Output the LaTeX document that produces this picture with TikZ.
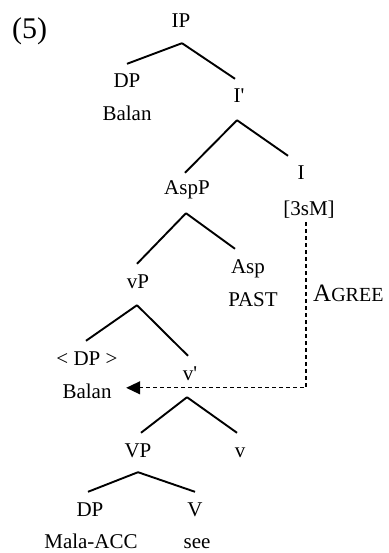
\documentclass[tikz,border=0pt]{standalone}
\usepackage{fontspec}
\setmainfont{Liberation Serif}
\usetikzlibrary{arrows.meta}
\begin{document}
\begin{tikzpicture}[x=1pt,y=-1pt,
  lbl/.style={font=\fontsize{21}{25}\selectfont, anchor=base, inner xsep=0pt, inner ysep=11pt, text height=13pt, text depth=4pt},
  word/.style={font=\fontsize{21}{25}\selectfont, anchor=base, inner sep=0pt},
  branch/.style={line width=1.9pt},
  agree/.style={line width=1.3pt, dash pattern=on 4pt off 3pt, -{Triangle[length=14pt,width=13pt]}}]
\useasboundingbox (0,0) rectangle (388,553);
\node[word, anchor=base west, font=\fontsize{30}{36}\selectfont] (ex) at (12,39) {(5)};
\node[lbl] (IP) at (181,28) {IP};
\node[lbl] (DP1) at (127,88) {DP};
\node[word] (Balan1) at (127,121) {Balan};
\node[lbl] (Ibar) at (239,103) {I\textquotesingle};
\node[lbl] (AspP) at (187,195) {AspP};
\node[lbl] (I) at (301,180) {I};
\node[word] (sm) at (309,215) {[3sM]};
\node[lbl] (vP) at (138,288) {vP};
\node[lbl] (Asp) at (248,273) {Asp};
\node[word] (past) at (253,306) {PAST};
\node[lbl] (DPt) at (87,365) {< DP >};
\node[lbl] (vbar) at (190,380) {v\textquotesingle};
\node[word] (Balan2) at (87,398) {Balan};
\node[lbl] (VP) at (138,457) {VP};
\node[lbl] (v) at (240,457) {v};
\node[lbl] (DP2) at (90,516) {DP};
\node[lbl] (V) at (195,516) {V};
\node[word] (mala) at (91,548) {Mala-ACC};
\node[word] (see) at (197,548) {see};
\node[word, anchor=base west] (agreelbl) at (313,301) {{\fontsize{25}{29}\selectfont A}{\fontsize{20}{24}\selectfont GREE}};
% branches
\draw[branch] ([xshift=1pt]IP.south) -- (DP1.north);
\draw[branch] ([xshift=1pt]IP.south) -- ([xshift=-4pt]Ibar.north);
\draw[branch] ([xshift=-2pt,yshift=-2pt]Ibar.south) -- ([xshift=-2pt,yshift=-2pt]AspP.north);
\draw[branch] ([xshift=-2pt,yshift=-2pt]Ibar.south) -- ([xshift=-13pt]I.north);
\draw[branch] ([xshift=-1pt,yshift=-3pt]AspP.south) -- ([xshift=-1pt]vP.north);
\draw[branch] ([xshift=-1pt,yshift=-3pt]AspP.south) -- ([xshift=-13pt]Asp.north);
\draw[branch] ([xshift=-1pt,yshift=-2pt]vP.south) -- ([xshift=-1pt]DPt.north);
\draw[branch] ([xshift=-1pt,yshift=-2pt]vP.south) -- ([xshift=-2pt]vbar.north);
\draw[branch] ([xshift=-3pt,yshift=-2pt]vbar.south) -- ([xshift=3pt]VP.north);
\draw[branch] ([xshift=-3pt,yshift=-2pt]vbar.south) -- ([xshift=-3pt]v.north);
\draw[branch] (VP.south) -- ([xshift=-2pt]DP2.north);
\draw[branch] (VP.south) -- (V.north);
% agreement
\draw[agree] ([xshift=-3pt,yshift=-4pt]sm.south) |- ([xshift=14.5pt,yshift=3pt]Balan2.east);
\end{tikzpicture}
\end{document}
